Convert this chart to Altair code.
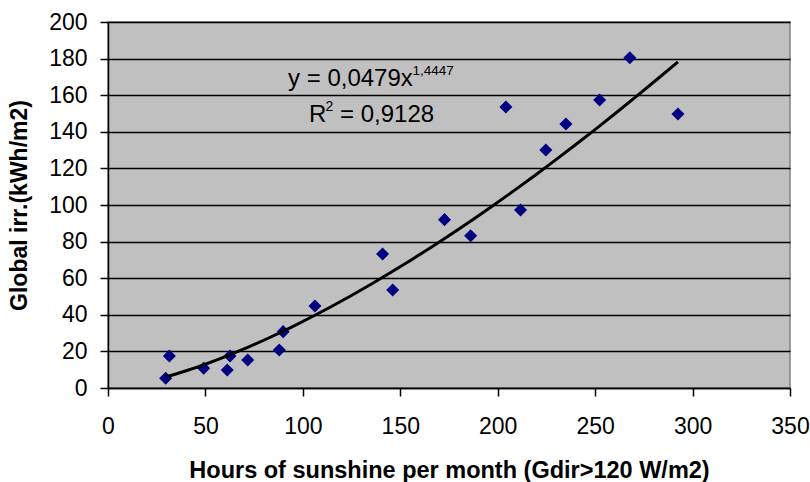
import altair as alt
import pandas as pd

hours = [29.6, 31.5, 49.1, 61.2, 62.6, 71.7, 87.9, 89.9, 106.2, 140.9, 146.1,
         172.7, 186.1, 204.2, 211.7, 224.7, 235.0, 252.3, 267.8, 292.5]
irr = [5.3, 17.5, 10.8, 9.8, 17.5, 15.3, 20.8, 30.8, 44.8, 73.2, 53.6,
       92.0, 83.2, 153.6, 97.3, 130.0, 144.3, 157.4, 180.5, 149.7]

x_ticks = [0, 50, 100, 150, 200, 250, 300, 350]
y_ticks = [0, 20, 40, 60, 80, 100, 120, 140, 160, 180, 200]

eq_main = ["y = 0,0479x"]
eq_exp = ["1,4447"]
r_main = ["R"]
r_sup = ["2"]
r_rest = ["= 0,9128"]

df = pd.DataFrame({"h": hours, "g": irr})

FONT = "Liberation Sans"

xscale = alt.Scale(domain=[0, 350], nice=False)
yscale = alt.Scale(domain=[0, 200], nice=False)

xaxis = alt.Axis(values=x_ticks, title="Hours of sunshine per month (Gdir>120 W/m2)",
                 grid=False, domainColor="black", domainWidth=1.5, tickColor="black",
                 tickWidth=1.5, tickSize=8, labelFontSize=23, labelFont=FONT,
                 labelColor="black", labelPadding=19, labelOverlap=False,
                 titleFont=FONT, titleFontSize=23.5,
                 titleFontWeight="bold", titleColor="black", titlePadding=20,
                 labelFlush=False)
yaxis = alt.Axis(values=y_ticks, title="Global irr.(kWh/m2)",
                 grid=True, gridColor="black", gridWidth=1.4, domainColor="black",
                 domainWidth=1.5, tickColor="black", tickWidth=1.5, tickSize=8,
                 labelFontSize=23, labelFont=FONT, labelColor="black", labelPadding=13,
                 labelOverlap=False,
                 titleFont=FONT, titleFontSize=23, titleFontWeight="bold",
                 titleColor="black", titlePadding=17)

X = lambda f: alt.X(f, scale=xscale, axis=xaxis)
Y = lambda f: alt.Y(f, scale=yscale, axis=yaxis)

base = alt.Chart(df)

points = base.mark_point(shape="diamond", filled=True, size=170, color="#000080",
                         opacity=1).encode(x=X("h:Q"), y=Y("g:Q"))

trend = base.transform_regression("h", "g", method="pow").mark_line(
    color="black", strokeWidth=3).encode(x=X("h:Q"), y=Y("g:Q"))

def txt(vals, xv, yv, size):
    d = pd.DataFrame({"t": vals, "x": [xv], "y": [yv]})
    return alt.Chart(d).mark_text(font=FONT, fontSize=size, color="black",
                                  align="left", baseline="alphabetic").encode(
        x=X("x:Q"), y=Y("y:Q"), text="t:N")

ann = (txt(eq_main, 92.4, 165, 24)
       + txt(eq_exp, 156.3, 171, 13.5)
       + txt(r_main, 103.2, 145.5, 24)
       + txt(r_sup, 111.6, 151.5, 14)
       + txt(r_rest, 119.1, 145.5, 24))

chart = alt.layer(points, trend, ann).properties(
    width=682, height=366,
    padding={"left": 108, "top": 22, "right": 20, "bottom": 94},
    autosize=alt.AutoSizeParams(type="none"),
    background="white",
).configure_view(fill="#C0C0C0", stroke="#808080", strokeWidth=1.5)

chart.save("out.html", embed_options={"renderer": "svg", "actions": False})
